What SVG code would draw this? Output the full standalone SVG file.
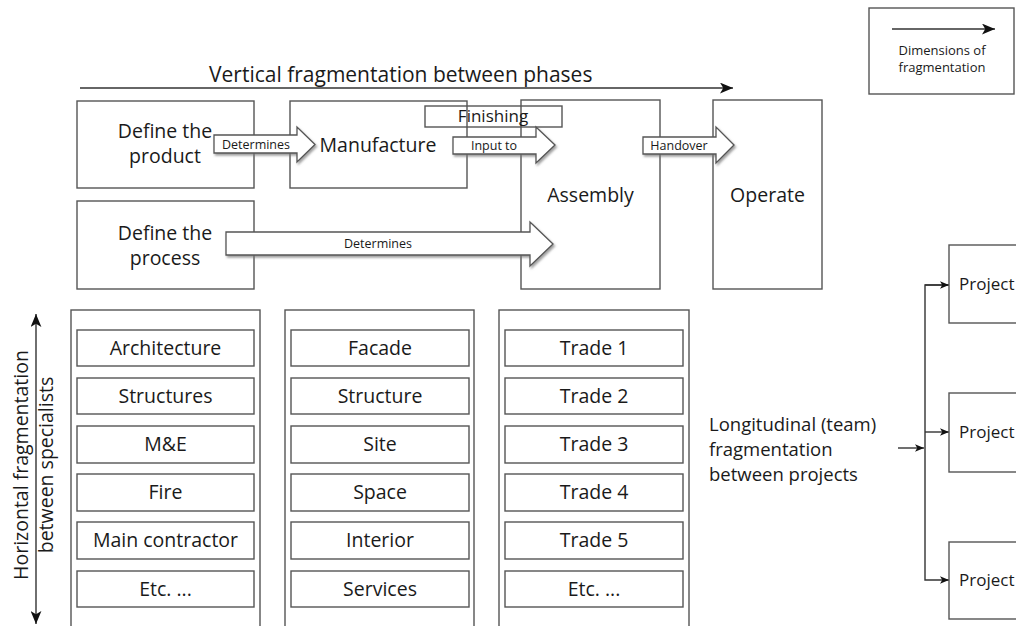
<svg xmlns="http://www.w3.org/2000/svg" width="1016" height="626" viewBox="0 0 1016 626">
<defs>
<style>
text{font-family:"Open Sans","Liberation Sans",sans-serif;fill:#1a1a1a}
.box{fill:#fff;stroke:#555;stroke-width:1.4}
.open{fill:none;stroke:#555;stroke-width:1.4}
.t{font-size:19.5px}
.tc{font-size:19.5px;text-anchor:middle}
.s{font-size:12.5px;text-anchor:middle}
.blk{fill:#fff;stroke:#555;stroke-width:1.3;filter:url(#sh)}
.ln{fill:none;stroke:#333;stroke-width:1.4}
.pj{font-size:17px}
.lg{font-size:18.5px}
</style>
<filter id="sh" x="-10%" y="-30%" width="130%" height="180%">
<feDropShadow dx="1.5" dy="2" stdDeviation="1.2" flood-color="#777" flood-opacity="0.7"/>
</filter>
<marker id="ah" viewBox="0 0 12 10" refX="12" refY="5" markerWidth="13" markerHeight="11" markerUnits="userSpaceOnUse" orient="auto-start-reverse">
<path d="M0,0 L12,5 L0,10 L3,5 z" fill="#111"/>
</marker>
<marker id="ahs" viewBox="0 0 12 10" refX="12" refY="5" markerWidth="9" markerHeight="8" markerUnits="userSpaceOnUse" orient="auto">
<path d="M0,0 L12,5 L0,10 L3,5 z" fill="#111"/>
</marker>
</defs>

<g id="connectors">
<line class="ln" x1="80" y1="88" x2="733" y2="88" marker-end="url(#ah)"/>
<line class="ln" x1="36" y1="314" x2="36" y2="624" marker-start="url(#ah)" marker-end="url(#ah)"/>
<line class="ln" x1="898" y1="448" x2="924" y2="448" marker-end="url(#ahs)"/>
<polyline class="ln" points="949,285 925,285 925,580 949,580" marker-end="url(#ahs)"/>
<line class="ln" x1="925" y1="285" x2="949" y2="285" marker-end="url(#ahs)"/>
<line class="ln" x1="925" y1="432" x2="949" y2="432" marker-end="url(#ahs)"/>
</g>

<g id="title">
<text x="209" y="82" style="font-size:21px">Vertical fragmentation between phases</text>
</g>

<g id="legend">
<rect class="box" x="869" y="8" width="145" height="86"/>
<line class="ln" x1="892" y1="29" x2="995" y2="29" marker-end="url(#ah)"/>
<text x="942" y="55" style="font-size:13px;text-anchor:middle">Dimensions of</text>
<text x="942" y="72" style="font-size:13px;text-anchor:middle">fragmentation</text>
</g>

<g id="define-product">
<rect class="box" x="77" y="101" width="177" height="87"/>
<text class="tc" x="165" y="138">Define the</text>
<text class="tc" x="165" y="163">product</text>
</g>
<g id="manufacture">
<rect class="box" x="290" y="101" width="177" height="87"/>
<text class="tc" x="378" y="152">Manufacture</text>
</g>
<g id="define-process">
<rect class="box" x="77" y="201" width="177" height="88"/>
<text class="tc" x="165" y="240">Define the</text>
<text class="tc" x="165" y="265">process</text>
</g>
<g id="assembly">
<rect class="box" x="521" y="100" width="139" height="189"/>
<text class="tc" x="590.5" y="202">Assembly</text>
</g>
<g id="operate">
<rect class="box" x="713" y="100" width="109" height="189"/>
<text class="tc" x="767.5" y="202">Operate</text>
</g>
<g id="finishing">
<rect class="open" x="425" y="106" width="137" height="21"/>
<text x="493" y="122" style="font-size:17px;text-anchor:middle">Finishing</text>
</g>

<g id="block-arrows">
<polygon class="blk" points="214,135 297,135 297,127 315,144.5 297,162 297,153 214,153"/>
<text class="s" x="256" y="149">Determines</text>
<polygon class="blk" points="453,137 536,137 536,127 555,145 536,163 536,154 453,154"/>
<text class="s" x="494" y="150">Input to</text>
<polygon class="blk" points="643,137 716,137 716,127 734,145 716,163 716,154 643,154"/>
<text class="s" x="679" y="150">Handover</text>
<polygon class="blk" points="226,232 530,232 530,222 553,244 530,266 530,255 226,255"/>
<text class="s" x="378" y="248">Determines</text>
</g>

<g id="horizontal-label">
<text class="tc" transform="translate(28,465) rotate(-90)">Horizontal fragmentation</text>
<text class="tc" transform="translate(53,465) rotate(-90)">between specialists</text>
</g>

<g id="col-design">
<rect class="box" x="71" y="310" width="189" height="340"/>
<rect class="box" x="77" y="330" width="177" height="36"/><text class="tc" x="165.5" y="355">Architecture</text>
<rect class="box" x="77" y="378" width="177" height="36"/><text class="tc" x="165.5" y="403">Structures</text>
<rect class="box" x="77" y="426" width="177" height="37"/><text class="tc" x="165.5" y="451">M&amp;E</text>
<rect class="box" x="77" y="474" width="177" height="37"/><text class="tc" x="165.5" y="499">Fire</text>
<rect class="box" x="77" y="522" width="177" height="37"/><text class="tc" x="165.5" y="547">Main contractor</text>
<rect class="box" x="77" y="571" width="177" height="36"/><text class="tc" x="165.5" y="596">Etc. ...</text>
</g>

<g id="col-manufacture">
<rect class="box" x="285" y="310" width="189" height="340"/>
<rect class="box" x="291" y="330" width="178" height="36"/><text class="tc" x="380" y="355">Facade</text>
<rect class="box" x="291" y="378" width="178" height="36"/><text class="tc" x="380" y="403">Structure</text>
<rect class="box" x="291" y="426" width="178" height="37"/><text class="tc" x="380" y="451">Site</text>
<rect class="box" x="291" y="474" width="178" height="37"/><text class="tc" x="380" y="499">Space</text>
<rect class="box" x="291" y="522" width="178" height="37"/><text class="tc" x="380" y="547">Interior</text>
<rect class="box" x="291" y="571" width="178" height="36"/><text class="tc" x="380" y="596">Services</text>
</g>

<g id="col-trades">
<rect class="box" x="499" y="310" width="190" height="340"/>
<rect class="box" x="505" y="330" width="178" height="36"/><text class="tc" x="594" y="355">Trade 1</text>
<rect class="box" x="505" y="378" width="178" height="36"/><text class="tc" x="594" y="403">Trade 2</text>
<rect class="box" x="505" y="426" width="178" height="37"/><text class="tc" x="594" y="451">Trade 3</text>
<rect class="box" x="505" y="474" width="178" height="37"/><text class="tc" x="594" y="499">Trade 4</text>
<rect class="box" x="505" y="522" width="178" height="37"/><text class="tc" x="594" y="547">Trade 5</text>
<rect class="box" x="505" y="571" width="178" height="36"/><text class="tc" x="594" y="596">Etc. ...</text>
</g>

<g id="longitudinal-label">
<text class="lg" x="709" y="431">Longitudinal (team)</text>
<text class="lg" x="709" y="456">fragmentation</text>
<text class="lg" x="709" y="481">between projects</text>
</g>

<g id="project-1">
<rect class="box" x="949" y="245" width="90" height="78"/>
<text class="pj" x="959" y="290">Project</text>
</g>
<g id="project-2">
<rect class="box" x="949" y="393" width="90" height="79"/>
<text class="pj" x="959" y="438">Project</text>
</g>
<g id="project-3">
<rect class="box" x="949" y="542" width="90" height="77"/>
<text class="pj" x="959" y="586">Project</text>
</g>
</svg>
